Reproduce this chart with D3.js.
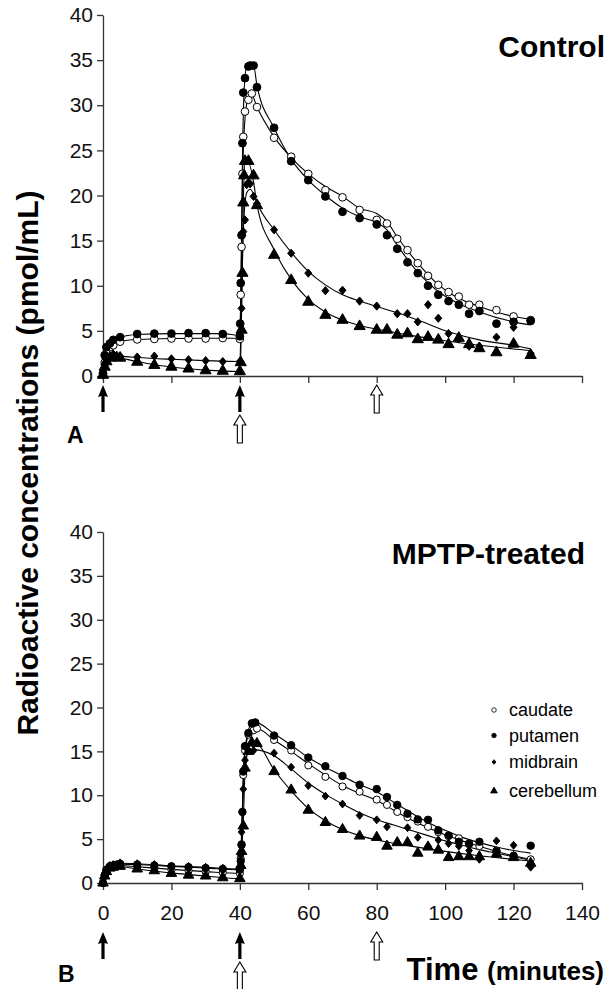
<!DOCTYPE html>
<html>
<head>
<meta charset="utf-8">
<script src="https://cdn.jsdelivr.net/npm/d3@7"></script>
<style>
  html, body { margin: 0; padding: 0; background: #fff; }
  svg { display: block; font-family: "Liberation Sans", Arial, sans-serif; }
  .axis path, .axis line { stroke: #333; stroke-width: 1.3; }
  .axis text { font-size: 21px; fill: #111; }
</style>
</head>
<body>
<script>
// Radioactive concentrations, Control (A) vs MPTP-treated (B)
const xTicks = [0, 20, 40, 60, 80, 100, 120, 140];
const yTicks = [0, 5, 10, 15, 20, 25, 30, 35, 40];
const regions = ["caudate", "putamen", "midbrain", "cerebellum"];

// panel A, data points [time (min), pmol/mL]
const caudateA = [[0,0.2],[0.5,1.5],[1,2.5],[2,3.2],[3,3.4],[5,3.8],[10,4.05],[15,4.1],[20,4.15],[25,4.15],[30,4.15],[35,4.2],[40,4.1],
  [40.25,9.0],[40.5,14.3],[40.75,22.4],[41,26.5],[41.5,29.3],[42.5,30.6],[43.5,31.3],[45,29.8],[50,26.4],[55,24.3],[60,22.4],[65,20.6],[70,19.8],[75,18.4],[80,17.3],[83,16.9],[86,15.2],[89,13.95],[92,12.5],[95,11.1],[98,10.1],[101,9.3],[104,8.8],[107,7.9],[110,7.9],[115,7.3],[120,6.6],[125,6.2]];
const putamenA = [[0,0.3],[0.5,2.3],[1,3.2],[2,3.6],[3,4.0],[5,4.3],[10,4.65],[15,4.7],[20,4.7],[25,4.75],[30,4.75],[35,4.65],[40,4.4],
  [40.1,5.8],[40.25,10.3],[40.5,15.6],[40.75,25.8],[41,31.4],[41.5,33.0],[42.5,34.3],[43,34.4],[44,34.4],[45,32.0],[50,27.5],[55,23.8],[60,21.7],[65,19.9],[70,18.2],[75,17.5],[80,16.8],[83,15.6],[86,14.1],[89,12.6],[92,11.4],[95,10.0],[98,9.0],[101,8.3],[104,7.9],[107,6.9],[110,7.2],[115,5.8],[120,6.0],[125,6.1]];
const midbrainA = [[0,0.1],[0.5,1.2],[1,1.8],[2,2.2],[3,2.4],[4,2.3],[5,2.2],[10,2.1],[15,2.2],[20,1.9],[25,1.8],[30,1.7],[35,1.6],[40,1.6],
  [40.25,5.0],[40.5,7.5],[40.75,15.6],[41,16.0],[41.5,17.3],[42,21.2],[42.5,21.4],[43,21.3],[44,19.9],[45,19.1],[50,16.2],[55,13.6],[60,11.4],[65,9.45],[70,9.5],[75,8.3],[80,7.75],[86,6.9],[89,6.9],[92,6.0],[95,7.9],[98,6.4],[101,4.7],[104,4.1],[107,3.3],[110,3.3],[115,4.3],[120,5.4],[125,2.5]];
const cerebellumA = [[0,0.1],[0.5,1.0],[1,1.6],[2,2.0],[3,2.2],[5,2.0],[10,1.55],[15,1.2],[20,1.0],[25,0.8],[30,0.6],[35,0.55],[40,0.5],
  [40.25,1.5],[40.5,5.1],[40.75,11.4],[41,19.2],[41.25,22.2],[41.5,23.8],[42.5,23.8],[44,22.2],[45,18.9],[50,13.4],[55,10.6],[60,8.2],[65,6.75],[70,6.2],[75,5.5],[80,5.1],[83,5.1],[86,4.55],[89,4.7],[92,4.05],[95,4.3],[98,4.0],[101,3.5],[104,4.2],[107,3.5],[110,3.05],[115,2.6],[120,3.55],[125,2.3]];

// panel A, fitted curves
const caudateFitA = [[0,0],[0.5,1.6],[1,2.4],[2,3.1],[3,3.5],[5,3.85],[10,4.05],[20,4.15],[40,4.2],[40.3,9],[40.8,22],[41.5,28.5],[42.5,30.8],[43.5,31.1],[45,29.8],[50,26.5],[55,24.2],[60,22.4],[65,21.0],[70,19.9],[75,18.6],[80,18.0],[83,17.1],[86,15.4],[92,12.5],[97.5,10.3],[103,8.8],[110,7.7],[120,6.6],[125,6.3]];
const putamenFitA = [[0,0],[0.5,2.2],[1,3.1],[2,3.7],[3,4.0],[5,4.3],[10,4.6],[20,4.7],[35,4.7],[40,4.5],[40.3,10],[40.8,25],[41.3,32],[42,34.2],[44,34.4],[45,32.2],[50,27.5],[55,24.0],[60,21.7],[65,20.0],[70,18.6],[75,17.65],[80,17.0],[83,16.2],[86,14.5],[92,11.5],[97.5,9.5],[103,8.2],[110,7.1],[120,6.0],[125,5.65]];
const midbrainFitA = [[0,0],[0.5,1.2],[1,1.8],[2,2.2],[3,2.3],[5,2.2],[10,2.05],[20,1.85],[30,1.7],[40,1.6],[40.3,5],[40.6,10],[41,16],[42,20.3],[43,20.7],[44,20.2],[45,19.2],[50,16.2],[55,13.7],[60,11.6],[65,10.1],[70,9.0],[75,8.3],[80,7.7],[86,7.0],[92,6.2],[101,4.9],[110,4.0],[120,3.4],[125,3.0]];
const cerebellumFitA = [[0,0],[0.5,1.0],[1,1.6],[2,2.0],[3,2.15],[5,2.0],[10,1.6],[15,1.25],[20,1.0],[25,0.8],[30,0.65],[40,0.5],[40.3,3],[40.7,11],[41,19],[41.5,23.5],[42.5,23.6],[44,21.5],[45,19.0],[50,14.0],[55,10.7],[60,8.5],[65,7.1],[70,6.2],[75,5.6],[80,5.2],[90,4.5],[100,3.9],[110,3.4],[120,3.0],[125,2.8]];

// panel B, data points
const caudateB = [[0,0],[0.5,0.8],[1,1.4],[2,1.8],[3,1.9],[5,2.0],[10,1.9],[15,1.7],[20,1.5],[25,1.4],[30,1.3],[35,1.2],[40,1.1],
  [40.25,2.8],[40.5,4.3],[41,12.3],[41.5,15.1],[42.5,16.9],[44,17.4],[45,17.6],[50,16.3],[55,15.1],[60,13.4],[65,12.1],[70,11.0],[75,10.4],[80,9.5],[83,8.9],[86,8.1],[89,7.5],[92,7.0],[95,6.4],[98,5.8],[101,5.35],[104,5.1],[107,4.4],[110,4.2],[115,3.7],[120,3.1],[125,2.7]];
const putamenB = [[0,0],[0.5,0.9],[1,1.5],[2,1.9],[3,2.0],[4,2.1],[5,2.2],[10,2.1],[15,2.0],[20,1.9],[25,1.8],[30,1.7],[35,1.6],[40,1.5],
  [40.25,2.5],[40.5,4.4],[40.75,8.1],[41,12.7],[41.5,15.6],[42.5,17.1],[43.5,18.2],[44.5,18.3],[50,16.8],[55,15.7],[60,14.3],[65,13.3],[70,12.2],[75,11.2],[80,10.7],[83,9.8],[86,8.9],[89,7.9],[92,7.25],[95,7.2],[98,6.0],[101,5.4],[104,4.7],[107,4.5],[110,4.7],[115,3.6],[120,3.1],[125,4.25]];
const midbrainB = [[0,0],[0.5,1.0],[1,1.6],[2,2.0],[3,2.1],[5,2.3],[10,2.2],[15,2.1],[20,1.9],[25,1.9],[30,1.8],[35,1.7],[40,1.6],
  [40.25,3.2],[40.5,5.8],[40.75,8.0],[41,10.7],[41.5,14.0],[42.5,15.1],[44,15.1],[50,14.8],[55,13.2],[60,11.1],[65,9.9],[70,9.0],[75,7.7],[80,7.2],[83,6.4],[89,6.3],[92,5.2],[95,4.2],[98,4.9],[101,4.5],[104,4.2],[107,3.7],[110,2.7],[115,4.8],[120,4.3],[125,1.8]];
const cerebellumB = [[0,0],[0.5,0.8],[1,1.3],[2,1.7],[3,1.8],[5,1.9],[10,1.6],[15,1.4],[20,1.1],[25,0.9],[30,0.8],[35,0.6],[40,0.5],
  [40.25,2.0],[40.5,3.6],[41,6.5],[41.5,13.1],[42.5,15.0],[43.5,16.0],[45,15.9],[50,12.7],[55,10.6],[60,8.3],[65,6.9],[70,6.1],[75,5.35],[80,5.2],[83,4.2],[86,4.6],[89,4.6],[92,3.4],[95,4.1],[98,3.75],[101,2.9],[104,3.0],[107,3.0],[110,3.0],[115,3.3],[120,2.9],[125,2.25]];

// panel B, fitted curves
const caudateFitB = [[0,0],[1,1.4],[2,1.8],[5,2.0],[10,1.85],[20,1.55],[30,1.3],[40,1.1],[40.4,3.5],[41,12],[41.5,15],[42.5,16.8],[44,17.5],[45,17.6],[50,16.3],[55,15.0],[60,13.6],[65,12.3],[70,11.1],[75,10.2],[80,9.4],[85,8.3],[90,7.2],[95,6.3],[100,5.5],[105,4.8],[110,4.2],[115,3.6],[120,3.1],[125,2.7]];
const putamenFitB = [[0,0],[1,1.5],[2,1.9],[5,2.15],[10,2.1],[20,1.9],[30,1.7],[40,1.5],[40.4,3.5],[40.8,9],[41.2,14],[42,16.5],[43.5,18.2],[44.5,18.3],[50,17.0],[55,15.7],[60,14.3],[65,13.2],[70,12.2],[75,11.2],[80,10.4],[85,9.2],[90,8.0],[95,6.9],[100,6.0],[105,5.2],[110,4.6],[115,4.1],[120,3.7],[125,3.4]];
const midbrainFitB = [[0,0],[1,1.6],[2,2.0],[5,2.25],[10,2.2],[20,1.95],[30,1.8],[40,1.6],[40.4,4.5],[41,10.5],[41.5,13.8],[42.5,15.0],[44,15.2],[50,14.5],[55,13.0],[60,11.4],[65,10.1],[70,9.0],[75,8.0],[80,7.2],[85,6.6],[90,6.0],[95,5.4],[100,4.8],[105,4.3],[110,3.8],[115,3.4],[120,3.0],[125,2.6]];
const cerebellumFitB = [[0,0],[1,1.3],[2,1.7],[5,1.85],[10,1.6],[20,1.15],[30,0.8],[40,0.5],[40.4,3],[41,7],[41.5,12.5],[42.5,15.2],[44,16.0],[45,15.9],[50,12.9],[55,10.5],[60,8.5],[65,7.1],[70,6.1],[75,5.4],[80,4.9],[90,4.2],[100,3.6],[110,3.1],[120,2.7],[125,2.5]];

// injection arrows (minutes): solid = tracer, open = drug; row 1 sits under row 0
const arrowTimes = [0, 40, 40, 80];
const arrowKinds = ["solid", "solid", "open", "open"];
const arrowRows = [0, 0, 1, 0];

const W = 608, H = 989;
const svg = d3.select("body").append("svg").attr("width", W).attr("height", H);

// custom diamond, a little wider than d3's
const diamond = { draw(ctx, size) { const h = Math.sqrt(size) * 0.62, w = h * 0.85;
  ctx.moveTo(0, -h); ctx.lineTo(w, 0); ctx.lineTo(0, h); ctx.lineTo(-w, 0); ctx.closePath(); } };
const shapes = { caudate: d3.symbolCircle, putamen: d3.symbolCircle, midbrain: diamond, cerebellum: d3.symbolTriangle };
const fills = { caudate: "#fff", putamen: "#000", midbrain: "#000", cerebellum: "#000" };

const panels = [
  { top: 15, bottom: 376, title: "Control", titleX: 605, titleY: 57, letter: "A", letterX: 67, letterY: 443, labels: false, arrowY: 9,
    pts: [caudateA, putamenA, midbrainA, cerebellumA], fits: [caudateFitA, putamenFitA, midbrainFitA, cerebellumFitA], sz: [46, 48, 44, 54] },
  { top: 532, bottom: 883, title: "MPTP-treated", titleX: 585, titleY: 564, letter: "B", letterX: 58, letterY: 982, labels: true, arrowY: 49,
    pts: [caudateB, putamenB, midbrainB, cerebellumB], fits: [caudateFitB, putamenFitB, midbrainFitB, cerebellumFitB], sz: [40, 44, 40, 48] }
];

const x = d3.scaleLinear().domain([0, 140]).range([103, 582]);

panels.forEach((p) => {
  const y = d3.scaleLinear().domain([0, 40]).range([p.bottom, p.top]);
  const g = svg.append("g");

  g.append("g").attr("class", "axis").attr("transform", `translate(0,${p.bottom})`)
    .call(d3.axisBottom(x).tickValues(xTicks).tickSize(7).tickSizeOuter(0).tickPadding(15)
      .tickFormat(p.labels ? d3.format("d") : () => ""));
  g.append("g").attr("class", "axis").attr("transform", `translate(${x(0)},0)`)
    .call(d3.axisLeft(y).tickValues(yTicks).tickSize(6).tickSizeOuter(0).tickPadding(4));

  const line = d3.line().x((d) => x(d[0])).y((d) => y(d[1])).curve(d3.curveMonotoneX);
  g.append("g").selectAll("path").data(p.fits).join("path")
    .attr("fill", "none").attr("stroke", "#000").attr("stroke-width", 1.1).attr("d", line);

  regions.forEach((r, i) => {
    const sym = d3.symbol(shapes[r], p.sz[i]);
    g.append("g").selectAll("path").data(p.pts[i]).join("path")
      .attr("transform", (d) => `translate(${x(d[0])},${y(d[1])})`)
      .attr("d", sym).attr("fill", fills[r]).attr("stroke", "#000").attr("stroke-width", 1);
  });

  // arrows
  arrowTimes.forEach((t, i) => {
    const cx = x(t), tip = p.bottom + p.arrowY + (arrowRows[i] ? 30 : 0);
    if (arrowKinds[i] === "solid") {
      g.append("path").attr("fill", "#000")
        .attr("d", `M${cx},${tip}L${cx + 5},${tip + 12}L${cx + 1.6},${tip + 11}L${cx + 1.6},${tip + 27}L${cx - 1.6},${tip + 27}L${cx - 1.6},${tip + 11}L${cx - 5},${tip + 12}Z`);
    } else {
      g.append("path").attr("fill", "#fff").attr("stroke", "#000").attr("stroke-width", 1.1)
        .attr("d", `M${cx},${tip}L${cx + 6},${tip + 10}L${cx + 2.5},${tip + 10}L${cx + 2.5},${tip + 28}L${cx - 2.5},${tip + 28}L${cx - 2.5},${tip + 10}L${cx - 6},${tip + 10}Z`);
    }
  });

  g.append("text").attr("x", p.titleX).attr("y", p.titleY).attr("text-anchor", "end")
    .attr("font-weight", "bold").attr("font-size", 30).text(p.title);
  g.append("text").attr("x", p.letterX).attr("y", p.letterY)
    .attr("font-weight", "bold").attr("font-size", 23).text(p.letter);
});

// legend (panel B)
const leg = svg.append("g").attr("transform", "translate(494,710)");
const legSz = [16, 16, 14, 20];
regions.forEach((r, i) => {
  const row = leg.append("g").attr("transform", `translate(0,${[0, 25.5, 52, 81][i]})`);
  row.append("path").attr("d", d3.symbol(shapes[r], legSz[i])).attr("fill", fills[r]).attr("stroke", "#000").attr("stroke-width", 0.8);
  row.append("text").attr("x", 15).attr("y", 6).attr("font-size", 18).text(r);
});

// axis titles
svg.append("text").attr("transform", "translate(38,463) rotate(-90)").attr("text-anchor", "middle")
  .attr("font-weight", "bold").attr("font-size", 30).text("Radioactive concentrations (pmol/mL)");
const xt = svg.append("text").attr("x", 604).attr("y", 980).attr("text-anchor", "end").attr("font-weight", "bold");
xt.append("tspan").attr("font-size", 31).text("Time ");
xt.append("tspan").attr("font-size", 26).text("(minutes)");
</script>
</body>
</html>
